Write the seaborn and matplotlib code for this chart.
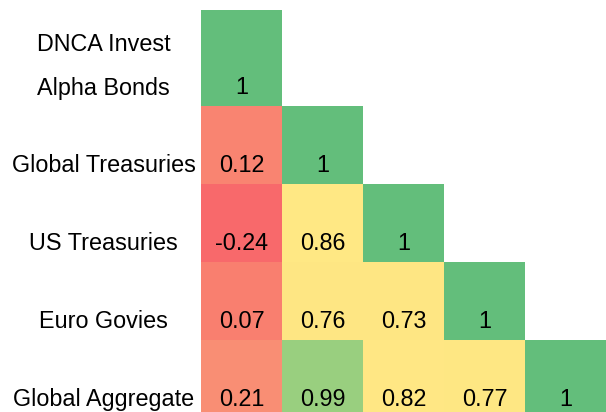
import numpy as np
import pandas as pd
import matplotlib.pyplot as plt
from matplotlib.colors import LinearSegmentedColormap
import seaborn as sns

sns.set_style("white")
plt.rcParams["font.family"] = ["Liberation Sans", "DejaVu Sans"]

# Data
funds = [
    "DNCA Invest\nAlpha Bonds",
    "Global Treasuries",
    "US Treasuries",
    "Euro Govies",
    "Global Aggregate",
]

row_dnca = [1, np.nan, np.nan, np.nan, np.nan]
row_global_tsy = [0.12, 1, np.nan, np.nan, np.nan]
row_us_tsy = [-0.24, 0.86, 1, np.nan, np.nan]
row_euro = [0.07, 0.76, 0.73, 1, np.nan]
row_global_agg = [0.21, 0.99, 0.82, 0.77, 1]

corr = pd.DataFrame(
    [row_dnca, row_global_tsy, row_us_tsy, row_euro, row_global_agg],
    index=funds,
    columns=funds,
)

# Excel-like red / yellow / green scale
vmin, vmax = -0.24, 1.0
nodes = [
    (0.00, "#F8696B"),
    (0.25, "#F97F6F"),
    (0.36, "#F98E74"),
    (0.78, "#FEE683"),
    (0.91, "#FFE884"),
    (0.992, "#9ACF7F"),
    (1.00, "#63BE7B"),
]
cmap = LinearSegmentedColormap.from_list("excel_rg", nodes)

mask = corr.isna()

fig = plt.figure(figsize=(6.06, 4.12), dpi=100)
W, H = 606, 412
ax_top = fig.add_axes([201 / W, 1 - 106 / H, 405 / W, 96 / H])
ax_bot = fig.add_axes([201 / W, 0, 405 / W, 306 / H])

text_size = 16.8

for ax, rows in [(ax_top, corr.iloc[:1]), (ax_bot, corr.iloc[1:])]:
    sns.heatmap(
        rows,
        mask=mask.loc[rows.index],
        cmap=cmap,
        vmin=vmin,
        vmax=vmax,
        annot=True,
        fmt="g",
        cbar=False,
        annot_kws={"size": text_size, "color": "black"},
        ax=ax,
    )
    ax.set_xticks([])
    ax.set_xlabel("")
    ax.set_ylabel("")
    ax.tick_params(axis="y", length=0, pad=70, labelcolor="black")

# top row: text sits low in the cell
for t in ax_top.texts:
    x, y = t.get_position()
    t.set_position((x, y + 0.31))
ax_top.set_yticks([0.59])
ax_top.set_yticklabels(
    [funds[0]], rotation=0, ha="center", va="center",
    multialignment="left", linespacing=2.2, fontsize=text_size
)

# lower rows
for t in ax_bot.texts:
    x, y = t.get_position()
    t.set_position((x, y + 0.26))
ax_bot.set_ylim(306 / 78, 0)
ax_bot.set_yticks(np.arange(len(funds) - 1) + 0.76)
ax_bot.set_yticklabels(
    funds[1:], rotation=0, ha="center", va="center", fontsize=text_size
)

plt.savefig("out.png", dpi=100)
plt.close()
